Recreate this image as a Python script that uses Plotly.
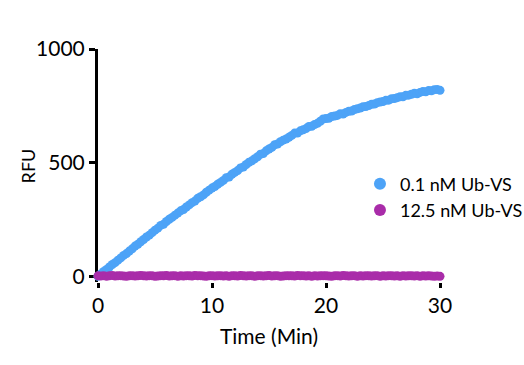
import plotly.graph_objects as go

# sampling grid (minutes)
time_min = [i * 0.25 for i in range(121)]

# 0.1 nM Ub-VS (RFU)
rfu_low = [
    0, 10, 21, 30, 41, 52, 60, 71, 81, 92,
    100, 111, 121, 133, 141, 152, 162, 173, 181, 192,
    203, 212, 224, 229, 241, 251, 259, 269, 278, 288,
    294, 305, 314, 324, 331, 343, 350, 358, 370, 379,
    388, 395, 405, 413, 422, 434, 437, 449, 457, 465,
    477, 481, 492, 502, 508, 517, 526, 537, 540, 552,
    560, 567, 579, 582, 592, 599, 604, 612, 620, 630,
    630, 640, 645, 650, 659, 660, 668, 673, 682, 692,
    694, 695, 703, 705, 708, 715, 714, 721, 726, 727,
    734, 737, 740, 746, 747, 751, 757, 758, 764, 767,
    769, 774, 775, 781, 782, 786, 790, 790, 796, 797,
    801, 805, 803, 809, 813, 812, 817, 816, 821, 822,
    818,
]

# 12.5 nM Ub-VS (RFU)
rfu_high = [
    2, 1, 3, 0, 2, 4, 1, 2, 3, 1,
    0, 2, 3, 1, 2, 4, 2, 1, 3, 2,
    0, 1, 3, 2, 4, 1, 2, 3, 0, 2,
    1, 3, 2, 1, 4, 2, 3, 1, 0, 2,
    3, 1, 2, 3, 1, 2, 0, 3, 2, 1,
    4, 2, 1, 3, 2, 0, 2, 3, 1, 2,
    4, 1, 2, 3, 0, 1, 3, 2, 2, 1,
    4, 2, 3, 1, 2, 0, 3, 1, 2, 3,
    2, 1, 0, 2, 3, 1, 4, 2, 1, 2,
    3, 0, 2, 1, 3, 2, 1, 2, 3, 0,
    2, 1, 3, 2, 1, 2, 0, 3, 1, 2,
    2, 1, 3, 0, 2, 1, 2, 1, 0, 1,
    0,
]

series_names = ["0.1 nM Ub-VS", "12.5 nM Ub-VS"]
colors = ["#4da3f7", "#a92ca9"]

FONT = "Lato"

fig = go.Figure()
for name, vals, col in zip(series_names, [rfu_low, rfu_high], colors):
    fig.add_trace(go.Scatter(
        x=time_min, y=vals, mode="markers", name=name,
        marker=dict(color=col, size=9, line=dict(width=0)),
        cliponaxis=False,
    ))

fig.update_layout(
    width=524, height=365,
    margin=dict(l=98, r=84, t=49, b=83, autoexpand=False),
    paper_bgcolor="white", plot_bgcolor="white",
    font=dict(family=FONT, color="black"),
    showlegend=True,
    legend=dict(
        x=0.766, y=0.50, xanchor="left", yanchor="top",
        font=dict(family=FONT, size=18, color="black"),
        bgcolor="rgba(0,0,0,0)", itemsizing="constant",
        tracegroupgap=0,
    ),
    annotations=[dict(
        text="RFU", textangle=-90, xref="paper", yref="paper",
        x=-0.205, y=0.5, xanchor="center", yanchor="middle",
        showarrow=False, font=dict(family=FONT, size=18, color="black"),
    )],
)

fig.update_xaxes(
    range=[0, 30], tickvals=[0, 10, 20, 30],
    showgrid=False, zeroline=False,
    showline=False,
    ticks="outside", ticklen=5, tickwidth=3, tickcolor="black",
    tickfont=dict(family=FONT, size=21, color="black"),
    title=dict(text="Time (Min)", font=dict(family=FONT, size=21, color="black"), standoff=13),
)
fig.update_yaxes(
    range=[-25, 1000], tickvals=[0, 500, 1000],
    showgrid=False, zeroline=False,
    showline=True, linecolor="black", linewidth=3, layer="below traces",
    ticks="outside", ticklen=6, tickwidth=3, tickcolor="black",
    tickfont=dict(family=FONT, size=21, color="black"),
)

fig.write_html("out.html")
